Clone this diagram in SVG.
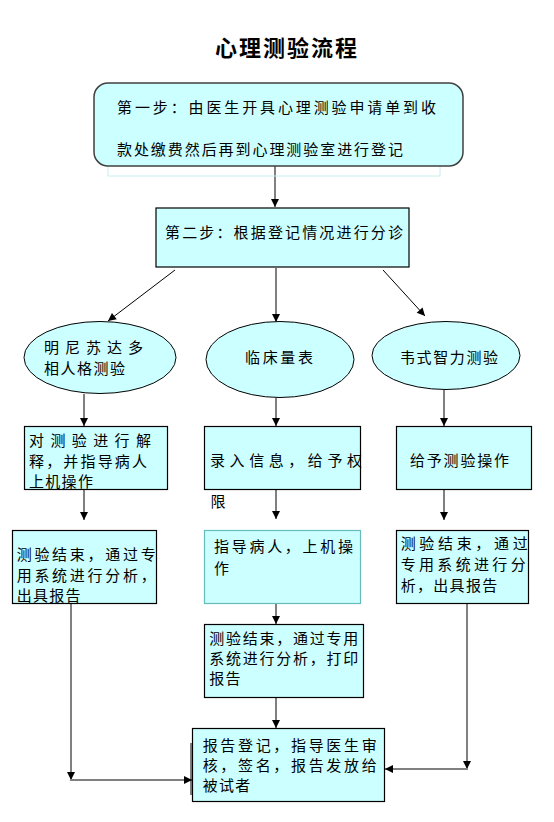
<svg xmlns="http://www.w3.org/2000/svg" width="554" height="822" viewBox="0 0 554 822">
<style>
text{font-family:"Noto Sans CJK SC","Noto Sans",sans-serif;font-size:15px;fill:#000;letter-spacing:1.3px}
.j{letter-spacing:0}
.title{font-size:22px;font-weight:bold;letter-spacing:0}
.box{fill:#CCFFFF;stroke:#000;stroke-width:1.2}
.teal{fill:#CCFFFF;stroke:#66BBBB;stroke-width:1.2}
.ell{fill:#CCFFFF;stroke:#000;stroke-width:1}
.g{stroke:#808080;stroke-width:2;fill:none}
.k{stroke:#000;stroke-width:1;fill:none}
</style>
<defs>
<marker id="ah" viewBox="0 0 10 10" refX="10" refY="5" markerWidth="9" markerHeight="8" markerUnits="userSpaceOnUse" orient="auto">
<path d="M0,0 L10,5 L0,10 z" fill="#000"/>
</marker>
</defs>
<rect width="554" height="822" fill="#fff"/>
<text class="title" x="215" y="56" textLength="142" lengthAdjust="spacing">心理测验流程</text>

<g id="connectors">
<line class="g" x1="275" y1="166" x2="275" y2="207" marker-end="url(#ah)"/>
<line class="k" x1="175" y1="270" x2="108" y2="321" marker-end="url(#ah)"/>
<line class="g" x1="276" y1="268" x2="276" y2="322" marker-end="url(#ah)"/>
<line class="k" x1="383" y1="270" x2="425" y2="316" marker-end="url(#ah)"/>
<line class="g" x1="84" y1="394" x2="84" y2="426" marker-end="url(#ah)"/>
<line class="g" x1="276" y1="398" x2="276" y2="426" marker-end="url(#ah)"/>
<line class="g" x1="444" y1="390" x2="444" y2="426" marker-end="url(#ah)"/>
<line class="g" x1="84" y1="490" x2="84" y2="520" marker-end="url(#ah)"/>
<line class="g" x1="276" y1="490" x2="276" y2="519" marker-end="url(#ah)"/>
<line class="g" x1="444" y1="490" x2="444" y2="520" marker-end="url(#ah)"/>
<line class="g" x1="276" y1="604" x2="276" y2="624" marker-end="url(#ah)"/>
<line class="g" x1="276" y1="698" x2="276" y2="728" marker-end="url(#ah)"/>
<line class="g" x1="71" y1="604" x2="71" y2="780" marker-end="url(#ah)"/>
<line class="g" x1="70" y1="780" x2="192" y2="780" marker-end="url(#ah)"/>
<line class="g" x1="467" y1="604" x2="467" y2="769" marker-end="url(#ah)"/>
<line class="g" x1="468" y1="769" x2="385" y2="769" marker-end="url(#ah)"/>
</g>

<g id="step1">
<rect x="108" y="100" width="332" height="76" fill="none" stroke="#C8EEEE" stroke-width="1"/>
<rect x="94" y="83" width="369" height="83" rx="14" ry="14" fill="#CCFFFF" stroke="#404040" stroke-width="1.5"/>
<text class="j" x="117" y="112.7" textLength="319" lengthAdjust="spacing">第一步：由医生开具心理测验申请单到收</text>
<text class="j" x="117" y="154.7" textLength="286" lengthAdjust="spacing">款处缴费然后再到心理测验室进行登记</text>
</g>

<g id="step2">
<rect class="box" x="156" y="208" width="253" height="59"/>
<text class="j" x="165" y="237.7" textLength="238" lengthAdjust="spacing">第二步：根据登记情况进行分诊</text>
</g>

<g id="mmpi">
<ellipse class="ell" cx="100" cy="357.5" rx="76" ry="36"/>
<text class="j" x="44" y="352.7" textLength="99" lengthAdjust="spacing">明尼苏达多</text>
<text class="j" x="44" y="373.7" textLength="81" lengthAdjust="spacing">相人格测验</text>
</g>

<g id="clinical">
<ellipse class="ell" cx="280" cy="359.5" rx="74" ry="38"/>
<text class="j" x="245" y="363.4" textLength="68" lengthAdjust="spacing">临床量表</text>
</g>

<g id="wechsler">
<ellipse class="ell" cx="446" cy="355.5" rx="74" ry="34"/>
<text class="j" x="400" y="363.4" textLength="98" lengthAdjust="spacing">韦式智力测验</text>
</g>

<g id="explain">
<rect class="box" x="24.5" y="426.5" width="143" height="63"/>
<text class="j" x="29" y="446.4" textLength="122" lengthAdjust="spacing">对测验进行解</text>
<text class="j" x="29" y="467.4" textLength="118" lengthAdjust="spacing">释，并指导病人</text>
<text x="29" y="487.4">上机操作</text>
</g>

<g id="input">
<rect class="box" x="204.5" y="426.5" width="156" height="63"/>
<text class="j" x="210" y="466.4" textLength="152" lengthAdjust="spacing">录入信息，给予权</text>
<text x="210.5" y="507.4">限</text>
</g>

<g id="give">
<rect class="box" x="396.5" y="426.5" width="135" height="63"/>
<text class="j" x="410" y="465.7" textLength="99" lengthAdjust="spacing">给予测验操作</text>
</g>

<g id="analysis-left">
<rect class="box" x="12.5" y="530.5" width="144" height="73"/>
<text class="j" x="16.7" y="560" textLength="139" lengthAdjust="spacing">测验结束，通过专</text>
<text class="j" x="16.7" y="580.7" textLength="139" lengthAdjust="spacing">用系统进行分析，</text>
<text x="16.7" y="601.4">出具报告</text>
</g>

<g id="guide">
<rect class="teal" x="204.5" y="530.5" width="156" height="73"/>
<text class="j" x="214" y="552.4" textLength="139" lengthAdjust="spacing">指导病人，上机操</text>
<text x="214" y="574">作</text>
</g>

<g id="analysis-right">
<rect class="box" x="396.5" y="530.5" width="132" height="73"/>
<text class="j" x="400.7" y="549" textLength="127" lengthAdjust="spacing">测验结束，通过</text>
<text class="j" x="400.7" y="570" textLength="125" lengthAdjust="spacing">专用系统进行分</text>
<text x="400.7" y="591.4">析，出具报告</text>
</g>

<g id="print">
<rect class="box" x="204.5" y="624.5" width="159" height="73"/>
<text class="j" x="209.3" y="644" textLength="149" lengthAdjust="spacing">测验结束，通过专用</text>
<text class="j" x="209.3" y="664" textLength="149" lengthAdjust="spacing">系统进行分析，打印</text>
<text x="209.3" y="684">报告</text>
</g>

<g id="report">
<rect class="box" x="192.5" y="728.5" width="192" height="73"/>
<line x1="191" y1="743" x2="191" y2="795" stroke="#000" stroke-width="1"/>
<text class="j" x="202.7" y="750.7" textLength="174" lengthAdjust="spacing">报告登记，指导医生审</text>
<text class="j" x="202.7" y="770.7" textLength="174" lengthAdjust="spacing">核，签名，报告发放给</text>
<text x="202.7" y="790.7">被试者</text>
</g>
</svg>
